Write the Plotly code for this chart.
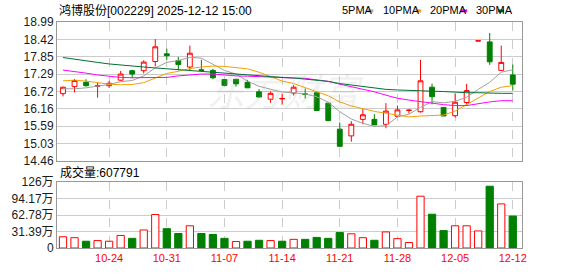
import plotly.graph_objects as go

dates = ["10-20", "10-21", "10-22", "10-23", "10-24", "10-27", "10-28", "10-29", "10-30", "10-31",
         "11-03", "11-04", "11-05", "11-06", "11-07", "11-10", "11-11", "11-12", "11-13", "11-14",
         "11-17", "11-18", "11-19", "11-20", "11-21", "11-24", "11-25", "11-26", "11-27", "11-28",
         "12-01", "12-02", "12-03", "12-04", "12-05", "12-08", "12-09", "12-10", "12-11", "12-12"]

open_ = [16.65, 16.88, 17.02, 16.89, 16.91, 17.09, 17.40, 17.40, 17.70, 17.95,
         17.73, 17.52, 17.43, 17.41, 17.11, 17.12, 17.02, 16.71, 16.47, 16.48,
         16.67, 16.64, 16.68, 16.34, 15.49, 15.27, 15.81, 15.81, 15.65, 15.91,
         16.10, 16.06, 16.86, 16.20, 15.93, 16.36, 18.37, 18.34, 17.41, 17.26]
high = [16.88, 17.12, 17.12, 17.00, 17.07, 17.39, 17.43, 17.74, 18.43, 18.12,
        17.85, 18.22, 17.76, 17.46, 17.11, 17.12, 17.10, 16.80, 16.72, 16.65,
        16.93, 16.82, 16.71, 16.34, 15.71, 15.75, 16.16, 15.98, 16.34, 16.26,
        16.14, 17.75, 16.98, 16.20, 16.66, 16.97, 18.375, 18.63, 18.22, 17.60]
low = [16.56, 16.69, 16.88, 16.52, 16.84, 17.07, 17.15, 17.31, 17.54, 17.76,
       17.41, 17.41, 17.38, 17.12, 16.89, 16.88, 16.84, 16.53, 16.35, 16.29,
       16.59, 16.49, 16.08, 15.75, 14.91, 15.08, 15.65, 15.63, 15.52, 15.89,
       16.00, 16.03, 16.30, 15.92, 15.87, 16.26, 18.37, 17.59, 17.41, 16.75]
close = [16.86, 17.08, 16.91, 16.91, 16.99, 17.29, 17.29, 17.68, 18.18, 17.89,
         17.60, 17.97, 17.41, 17.17, 16.92, 16.97, 16.84, 16.54, 16.66, 16.49,
         16.86, 16.63, 16.10, 15.77, 14.93, 15.65, 15.96, 15.63, 16.08, 16.12,
         16.11, 17.07, 16.55, 15.92, 16.37, 16.75, 18.375, 17.69, 17.67, 16.96]

ma5 = [16.81, 16.81, 16.84, 16.89, 16.95, 17.04, 17.08, 17.23, 17.49, 17.67,
       17.73, 17.84, 17.81, 17.61, 17.41, 17.29, 17.06, 16.89, 16.79, 16.70,
       16.68, 16.64, 16.55, 16.37, 16.06, 15.82, 15.68, 15.58, 15.60, 15.89,
       15.98, 16.20, 16.39, 16.35, 16.40, 16.53, 16.79, 17.02, 17.35, 17.43]
ma10 = [17.07, 17.09, 17.06, 17.01, 16.96, 16.94, 16.95, 17.01, 17.17, 17.31,
        17.38, 17.47, 17.52, 17.55, 17.54, 17.51, 17.46, 17.35, 17.20, 17.06,
        16.98, 16.85, 16.72, 16.58, 16.38, 16.25, 16.16, 16.07, 16.01, 15.94,
        15.89, 15.92, 15.94, 15.95, 16.08, 16.30, 16.52, 16.72, 16.86, 16.91]
ma20 = [17.42, 17.38, 17.32, 17.26, 17.21, 17.18, 17.17, 17.17, 17.17, 17.18,
        17.23, 17.27, 17.29, 17.29, 17.25, 17.23, 17.22, 17.20, 17.18, 17.16,
        17.16, 17.15, 17.10, 17.05, 16.96, 16.88, 16.81, 16.71, 16.60, 16.50,
        16.44, 16.40, 16.34, 16.29, 16.26, 16.26, 16.33, 16.38, 16.42, 16.42]
ma30 = [17.83, 17.77, 17.72, 17.67, 17.62, 17.58, 17.55, 17.52, 17.49, 17.46,
        17.43, 17.41, 17.38, 17.35, 17.32, 17.29, 17.26, 17.23, 17.20, 17.18,
        17.16, 17.13, 17.10, 17.05, 16.98, 16.93, 16.87, 16.82, 16.79, 16.77,
        16.75, 16.73, 16.73, 16.72, 16.69, 16.68, 16.68, 16.66, 16.66, 16.66]

volume = [21.4, 19.6, 12.9, 14.1, 12.9, 23.9, 18.4, 34.3, 63.7, 36.8,
          27.6, 42.3, 27.6, 25.7, 18.4, 12.3, 12.9, 14.7, 14.1, 12.9,
          16.5, 16.5, 20.2, 18.4, 29.4, 27.0, 19.6, 14.7, 30.6, 17.8,
          10.4, 98.6, 64.3, 33.1, 42.3, 42.3, 32.5, 117.6, 83.9, 60.78]
vol_up = [1, 1, 0, 1, 1, 1, 0, 1, 1, 0,
          0, 1, 0, 0, 0, 1, 0, 0, 1, 0,
          1, 0, 0, 0, 0, 1, 1, 0, 1, 1,
          1, 1, 0, 0, 1, 1, 1, 0, 1, 0]

price_ticks = [14.46, 15.026, 15.5925, 16.159, 16.725, 17.291, 17.8575, 18.424, 18.99]
price_labels = ["14.46", "15.03", "15.59", "16.16", "16.72", "17.29", "17.85", "18.42", "18.99"]
vol_ticks = [0, 31.39, 62.78, 94.17, 125.56]
vol_labels = ["0", "31.39万", "62.78万", "94.17万", "126万"]
date_ticks = ["10-24", "10-31", "11-07", "11-14", "11-21", "11-28", "12-05", "12-12"]

RED = "#ff0000"
GREEN = "#008000"
FONT = "Liberation Sans, Noto Sans CJK SC, sans-serif"

W, H = 578, 276
ML, MR, MT, MB = 56, 56, 22, 21
PW, PH = W - ML - MR, H - MT - MB


def px(x):
    return (x - ML) / PW


def py(y):
    return (H - MB - y) / PH


fig = go.Figure()

fig.add_trace(go.Candlestick(
    x=dates, open=open_, high=high, low=low, close=close,
    increasing=dict(line=dict(color=RED, width=1), fillcolor="#ffffff"),
    decreasing=dict(line=dict(color=GREEN, width=1), fillcolor=GREEN),
    whiskerwidth=0, xaxis="x", yaxis="y", showlegend=False, hoverinfo="skip"))

for vals, col in [(ma5, "#a0a0a0"), (ma10, "#f5a000"), (ma20, "#ff00ff"), (ma30, "#006f35")]:
    fig.add_trace(go.Scatter(x=dates, y=vals, mode="lines", line=dict(color=col, width=1),
                             xaxis="x", yaxis="y", showlegend=False, hoverinfo="skip"))

fig.add_trace(go.Bar(
    x=dates, y=volume,
    marker=dict(color=["#ffffff" if u else GREEN for u in vol_up],
                line=dict(color=[RED if u else GREEN for u in vol_up], width=1)),
    xaxis="x2", yaxis="y2", showlegend=False, hoverinfo="skip"))

price_top = py(22)
price_bot = py(165)
vol_top = py(187)

xcommon = dict(type="category", range=[-0.52, 39.8], tickmode="array", tickvals=date_ticks,
               showgrid=True, gridcolor="#cccccc", griddash="dash", gridwidth=1,
               showline=True, linecolor="#999999", linewidth=1, mirror=True,
               ticks="", zeroline=False, fixedrange=True)

fig.update_layout(
    width=W, height=H,
    margin=dict(l=ML, r=MR, t=MT, b=MB, pad=0),
    paper_bgcolor="#ffffff", plot_bgcolor="#ffffff",
    font=dict(family=FONT, size=12, color="#000000"),
    bargap=0.37, boxgap=0.4,
    xaxis=dict(xcommon, anchor="y", domain=[0, 1], showticklabels=False,
               rangeslider=dict(visible=False)),
    xaxis2=dict(xcommon, anchor="y2", domain=[0, 1], showticklabels=True,
                tickfont=dict(color=RED, size=11, family=FONT)),
    yaxis=dict(domain=[price_bot, price_top], range=[14.46, 18.99], tickmode="array",
               tickvals=price_ticks, ticktext=price_labels, showgrid=True,
               gridcolor="#cccccc", gridwidth=1, showline=True, linecolor="#999999",
               mirror=True, ticks="", zeroline=False, fixedrange=True,
               tickfont=dict(size=12, color="#1a1a1a")),
    yaxis2=dict(domain=[0, vol_top], range=[0, 125.56], tickmode="array",
                tickvals=vol_ticks, ticktext=vol_labels, showgrid=True,
                gridcolor="#cccccc", gridwidth=1, showline=True, linecolor="#999999",
                mirror=True, ticks="", zeroline=False, fixedrange=True,
                tickfont=dict(size=12, color="#1a1a1a")),
    showlegend=False,
)

annotations = [
    dict(x=px(56), y=py(10), xref="paper", yref="paper", xanchor="left", yanchor="middle",
         text="鸿博股份[002229] 2025-12-12 15:00", showarrow=False,
         font=dict(size=12, color="#000000", family=FONT)),
    dict(x=px(57), y=py(177), xref="paper", yref="paper", xanchor="left", yanchor="middle",
         text="成交量:607791", showarrow=False, font=dict(size=12, color="#000000", family=FONT)),
    dict(x=px(285), y=py(92), xref="paper", yref="paper", xanchor="center", yanchor="middle",
         text="<i>东方财富</i>", showarrow=False,
         font=dict(size=38, color="rgba(170,170,170,0.18)", family="Noto Sans CJK SC")),
]
shapes = []
legend_items = [("5PMA", 340, 367, "#aaaaaa"), ("10PMA", 381, 415, "#f5a000"),
                ("20PMA", 428, 461, "#ff00ff"), ("30PMA", 474, 498, "#007f3f")]
for label, tx, sx, col in legend_items:
    annotations.append(dict(x=px(tx), y=py(10), xref="paper", yref="paper", xanchor="left",
                            yanchor="middle", text=label, showarrow=False,
                            font=dict(size=11, color="#000000", family=FONT)))
    shapes.append(dict(type="rect", xref="paper", yref="paper", x0=px(sx), x1=px(sx + 6),
                       y0=py(12), y1=py(9), fillcolor=col, line=dict(width=0)))

fig.update_layout(annotations=annotations, shapes=shapes)

fig.write_html("out.html")
